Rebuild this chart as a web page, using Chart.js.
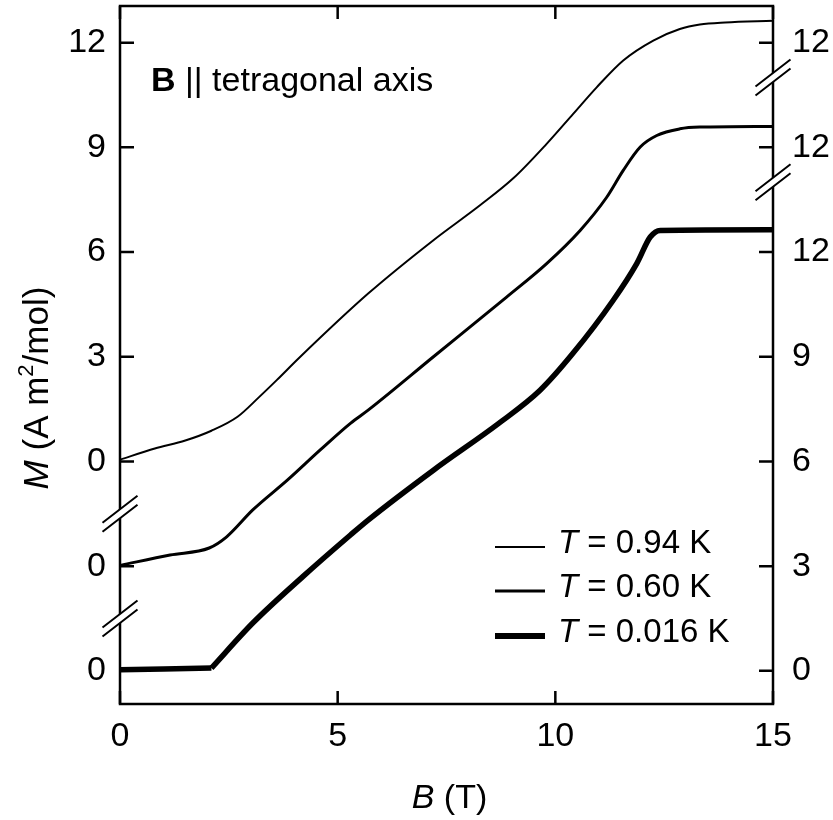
<!DOCTYPE html>
<html>
<head>
<meta charset="utf-8">
<script src="https://cdn.jsdelivr.net/npm/chart.js@4.4.1/dist/chart.umd.min.js"></script>
<style>
  html, body { margin: 0; padding: 0; background: #fff; }
  #wrap { width: 833px; height: 820px; }
</style>
</head>
<body>
<div id="wrap"><canvas id="chart"></canvas></div>
<script>
// B (T) and M (A m2/mol), one pair of arrays per temperature
const fieldHot = [0, 0.8, 1.5, 2.1, 2.7, 3.2, 3.6, 4.1, 5.7, 7.2, 8.27, 9.04, 9.8, 10.41, 10.95, 11.56, 12.25, 12.86, 13.32, 13.9, 15];
const magHot = [0.05, 0.37, 0.6, 0.88, 1.28, 1.85, 2.33, 2.95, 4.81, 6.34, 7.34, 8.12, 9.1, 9.96, 10.72, 11.49, 12.06, 12.39, 12.52, 12.58, 12.63];

const fieldMid = [0, 1.15, 2.05, 2.45, 3.05, 3.85, 4.6, 5.3, 5.7, 7.2, 8.88, 9.8, 10.57, 11.18, 11.56, 11.95, 12.33, 12.86, 13.32, 15];
const magMid = [0.02, 0.32, 0.52, 0.84, 1.61, 2.47, 3.33, 4.1, 4.47, 6.0, 7.71, 8.67, 9.62, 10.57, 11.34, 12.01, 12.34, 12.53, 12.58, 12.6];

const fieldCold = [0, 1.0, 2.1, 3.05, 4.2, 5.3, 5.7, 7.2, 8.7, 9.65, 10.4, 11.33, 11.87, 12.18, 12.41, 15];
const magCold = [0.03, 0.05, 0.08, 1.37, 2.7, 3.9, 4.32, 5.75, 7.09, 8.04, 9.09, 10.62, 11.67, 12.43, 12.62, 12.64];
const coldKink = 2; // index of the sharp onset at ~2.1 T

// curves are stacked with these offsets on one shared axis
const offsetHot = 6, offsetMid = 3, offsetCold = 0;

const tempLabels = ['0.94 K', '0.60 K', '0.016 K'];
const xTicks = [0, 5, 10, 15];
const yTicks = [0, 3, 6, 9, 12, 15, 18];
const leftTickLabels = ['0', '0', '0', '3', '6', '9', '12'];
const rightTickLabels = ['0', '3', '6', '9', '12', '12', '12'];
const leftBreaks = [1.5, 4.5];
const rightBreaks = [14, 17];

const FONT = '"Liberation Sans", Arial, sans-serif';

const toPoints = (xs, ys, off) => xs.map((x, i) => ({ x: x, y: ys[i] + off }));

function breakMark(ctx, x, y) {
  const hw = 17.5, dy = 13.5, gap = 4.5;
  ctx.save();
  ctx.fillStyle = '#fff';
  ctx.beginPath();
  ctx.moveTo(x - hw, y + dy - gap);
  ctx.lineTo(x + hw, y - dy - gap);
  ctx.lineTo(x + hw, y - dy + gap);
  ctx.lineTo(x - hw, y + dy + gap);
  ctx.closePath();
  ctx.fill();
  ctx.strokeStyle = '#000';
  ctx.lineWidth = 2;
  ctx.beginPath();
  ctx.moveTo(x - hw, y + dy - gap); ctx.lineTo(x + hw, y - dy - gap);
  ctx.moveTo(x - hw, y + dy + gap); ctx.lineTo(x + hw, y - dy + gap);
  ctx.stroke();
  ctx.restore();
}

const decor = {
  id: 'decor',
  afterDatasetsDraw(chart) {
    const ctx = chart.ctx;
    const a = chart.chartArea;
    const xs = chart.scales.x, yl = chart.scales.y, yr = chart.scales.y2;
    ctx.save();
    ctx.strokeStyle = '#000';
    ctx.lineWidth = 2.5;
    ctx.strokeRect(a.left, a.top, a.right - a.left, a.bottom - a.top);

    // inward ticks
    ctx.beginPath();
    xTicks.forEach(v => {
      const px = xs.getPixelForValue(v);
      ctx.moveTo(px, a.bottom); ctx.lineTo(px, a.bottom - 13);
      ctx.moveTo(px, a.top); ctx.lineTo(px, a.top + 13);
    });
    yTicks.forEach(v => {
      const py = yl.getPixelForValue(v);
      ctx.moveTo(a.left, py); ctx.lineTo(a.left + 14, py);
      ctx.moveTo(a.right, py); ctx.lineTo(a.right - 14, py);
    });
    ctx.stroke();

    leftBreaks.forEach(v => breakMark(ctx, a.left, yl.getPixelForValue(v)));
    rightBreaks.forEach(v => breakMark(ctx, a.right, yr.getPixelForValue(v)));

    // legend
    ctx.fillStyle = '#000';
    ctx.textBaseline = 'alphabetic';
    const rows = [547, 591, 636];
    chart.data.datasets.filter(ds => ds.legendWidth).forEach((ds, i) => {
      const y = rows[i];
      ctx.lineWidth = ds.legendWidth;
      ctx.beginPath();
      ctx.moveTo(495, y); ctx.lineTo(545, y);
      ctx.stroke();
      ctx.font = 'italic 33px ' + FONT;
      ctx.fillText('T', 558, y + 6);
      const w = ctx.measureText('T').width;
      ctx.font = '33px ' + FONT;
      ctx.fillText(' = ' + ds.label, 558 + w, y + 6);
    });

    // annotation
    ctx.font = 'bold 34px ' + FONT;
    ctx.fillText('B', 151, 91);
    const w = ctx.measureText('B').width;
    ctx.font = '34px ' + FONT;
    ctx.fillText(' || tetragonal axis', 151 + w, 91);

    // x title
    ctx.font = 'italic 34px ' + FONT;
    const bw = ctx.measureText('B').width;
    ctx.font = '34px ' + FONT;
    const tw = ctx.measureText(' (T)').width;
    const x0 = (a.left + a.right) / 2 - (bw + tw) / 2 + 3;
    ctx.font = 'italic 34px ' + FONT;
    ctx.fillText('B', x0, 808);
    ctx.font = '34px ' + FONT;
    ctx.fillText(' (T)', x0 + bw, 808);

    // y title
    ctx.translate(48, 388);
    ctx.rotate(-Math.PI / 2);
    ctx.font = 'italic 35px ' + FONT;
    const mw = ctx.measureText('M').width;
    ctx.font = '35px ' + FONT;
    const p1 = ' (A m', p2 = '/mol)';
    const w1 = ctx.measureText(p1).width, w2 = ctx.measureText(p2).width;
    ctx.font = '22px ' + FONT;
    const sw = ctx.measureText('2').width;
    let sx = -(mw + w1 + sw + w2) / 2;
    ctx.font = 'italic 35px ' + FONT;
    ctx.fillText('M', sx, 0); sx += mw;
    ctx.font = '35px ' + FONT;
    ctx.fillText(p1, sx, 0); sx += w1;
    ctx.font = '22px ' + FONT;
    ctx.fillText('2', sx, -15); sx += sw;
    ctx.font = '35px ' + FONT;
    ctx.fillText(p2, sx, 0);
    ctx.restore();
  }
};

const yScale = (pos, labels, pad) => ({
  type: 'linear',
  position: pos,
  min: -0.95,
  max: 19.05,
  grid: { display: false, drawTicks: false },
  border: { display: false },
  afterBuildTicks: s => { s.ticks = yTicks.map(v => ({ value: v })); },
  afterFit: s => {
    s.width = pos === 'left' ? 120 : 60;
    s.paddingTop = 0;
    s.paddingBottom = 0;
  },
  ticks: {
    autoSkip: false,
    padding: pad,
    color: '#000',
    font: { family: FONT, size: 34 },
    callback: v => labels[yTicks.indexOf(v)]
  }
});

const coldPoints = toPoints(fieldCold, magCold, offsetCold);

new Chart(document.getElementById('chart'), {
  type: 'line',
  data: {
    datasets: [
      { label: tempLabels[0], data: toPoints(fieldHot, magHot, offsetHot), borderWidth: 2, legendWidth: 2, cubicInterpolationMode: 'monotone' },
      { label: tempLabels[1], data: toPoints(fieldMid, magMid, offsetMid), borderWidth: 3, legendWidth: 2.8, cubicInterpolationMode: 'monotone' },
      { label: tempLabels[2], data: coldPoints.slice(coldKink), borderWidth: 5.5, legendWidth: 6, cubicInterpolationMode: 'monotone' },
      { label: tempLabels[2], data: coldPoints.slice(0, coldKink + 1), borderWidth: 5.5, tension: 0 }
    ].map(d => Object.assign(d, {
      borderColor: '#000',
      pointRadius: 0,
      fill: false,
      borderJoinStyle: 'round'
    }))
  },
  options: {
    responsive: true,
    maintainAspectRatio: false,
    animation: false,
    layout: { padding: { top: 6, left: 0, right: 0, bottom: 0 } },
    plugins: { legend: { display: false }, tooltip: { enabled: false } },
    scales: {
      x: {
        type: 'linear',
        min: 0,
        max: 15,
        grid: { display: false, drawTicks: false },
        border: { display: false },
        afterBuildTicks: s => { s.ticks = xTicks.map(v => ({ value: v })); },
        afterFit: s => {
          s.height = 116;
          s.paddingLeft = 0;
          s.paddingRight = 0;
        },
        ticks: { autoSkip: false, maxRotation: 0, padding: 12, color: '#000', font: { family: FONT, size: 34 } }
      },
      y: yScale('left', leftTickLabels, 14),
      y2: yScale('right', rightTickLabels, 19)
    }
  },
  plugins: [decor]
});
</script>
</body>
</html>
